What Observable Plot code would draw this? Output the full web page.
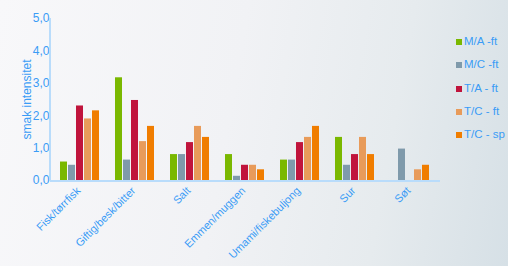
<!DOCTYPE html>
<html>
<head>
<meta charset="utf-8">
<script src="https://cdn.jsdelivr.net/npm/d3@7"></script>
<script src="https://cdn.jsdelivr.net/npm/@observablehq/plot@0.6"></script>
<style>
  html, body { margin: 0; padding: 0; }
  body {
    width: 508px; height: 266px; overflow: hidden; position: relative;
    background: linear-gradient(100deg, #f8f8fa 0%, #f1f2f5 45%, #e6ebee 75%, #d6e0e6 100%);
    font-family: "Liberation Sans", Arial, sans-serif;
  }
  #chart { position: absolute; left: 0; top: 0; }
  #legend { position: absolute; left: 456px; top: 35px; color: #3a9cf6; font-size: 11.5px; }
  #legend .item { height: 23.3px; display: flex; align-items: flex-start; white-space: nowrap; }
  #legend .sw { width: 6px; height: 6px; margin-top: 4px; margin-right: 2px; }
</style>
</head>
<body>
<div id="chart"></div>
<div id="legend"></div>
<script>
const categories = ["Fisk/tørrfisk", "Giftig/besk/bitter", "Salt", "Emmen/muggen", "Umami/fiskebuljong", "Sur", "Søt"];
const series = ["M/A -ft", "M/C -ft", "T/A - ft", "T/C - ft", "T/C - sp"];
const colors = ["#7ab800", "#7f9aab", "#c0143c", "#e89b5a", "#f07d00"];
const valuesMA   = [0.57, 3.17, 0.80, 0.80, 0.63, 1.33, 0.00];
const valuesMC   = [0.47, 0.63, 0.80, 0.13, 0.63, 0.47, 0.97];
const valuesTA   = [2.30, 2.47, 1.17, 0.47, 1.17, 0.80, 0.00];
const valuesTCft = [1.90, 1.20, 1.67, 0.47, 1.33, 1.33, 0.33];
const valuesTCsp = [2.15, 1.67, 1.33, 0.33, 1.67, 0.80, 0.47];
const yTicks = [0, 1, 2, 3, 4, 5];

const allValues = [valuesMA, valuesMC, valuesTA, valuesTCft, valuesTCsp];
const table = [];
categories.forEach((c, i) => series.forEach((s, j) => table.push({category: c, series: s, value: allValues[j][i]})));

const textColor = "#3a9cf6";
const chart = Plot.plot({
  width: 508,
  height: 266,
  marginLeft: 50,
  marginRight: 68,
  marginTop: 18,
  marginBottom: 86,
  style: {background: "transparent", color: textColor, fontFamily: "'Liberation Sans', Arial, sans-serif", fontSize: "12px"},
  facet: {data: table, x: "category"},
  fx: {domain: categories, paddingInner: 0.25, paddingOuter: 0.125, axis: "bottom", label: null, tickRotate: -45, tickSize: 0, tickPadding: 7},
  x: {domain: series, axis: null, paddingInner: 0.14, paddingOuter: 0},
  y: {domain: [0, 5], ticks: yTicks, tickFormat: d => d.toFixed(1).replace(".", ","), tickSize: 0, tickPadding: 10,
      label: "smak intensitet", labelAnchor: "center", labelOffset: 37, labelArrow: false},
  color: {domain: series, range: colors},
  marks: [
    Plot.barY(table, {x: "series", y: "value", fill: "series"})
  ]
});
document.getElementById("chart").appendChild(chart);

// axis lines drawn from the plot's own scales
const ys = chart.scale("y");
const ns = "http://www.w3.org/2000/svg";
const svg = chart.tagName.toLowerCase() === "svg" ? chart : chart.querySelector("svg");
const y0 = ys.range[0], y1 = ys.range[1];
const xl = 50, xr = 508 - 68;
function line(x1, y1_, x2, y2) {
  const l = document.createElementNS(ns, "line");
  l.setAttribute("x1", x1); l.setAttribute("y1", y1_); l.setAttribute("x2", x2); l.setAttribute("y2", y2);
  l.setAttribute("stroke", "#b9dcfb"); l.setAttribute("stroke-width", 2);
  svg.appendChild(l);
}
line(xl, y1, xl, y0 + 1);
line(xl, y0 + 1, xr, y0 + 1);

svg.querySelectorAll("text").forEach(t => {
  if (/[↑→]/.test(t.textContent)) t.textContent = t.textContent.replace(/\s*[↑→]\s*/g, "");
  if (/^\d,\d$/.test(t.textContent)) t.style.fontSize = "12px";
  if (categories.includes(t.textContent)) { t.style.fontSize = "11px"; t.setAttribute("dx", "-2"); }
});

const legend = document.getElementById("legend");
series.forEach((s, j) => {
  const it = document.createElement("div"); it.className = "item";
  const sw = document.createElement("div"); sw.className = "sw"; sw.style.background = colors[j];
  const tx = document.createElement("span"); tx.textContent = s;
  it.appendChild(sw); it.appendChild(tx); legend.appendChild(it);
});
</script>
</body>
</html>
